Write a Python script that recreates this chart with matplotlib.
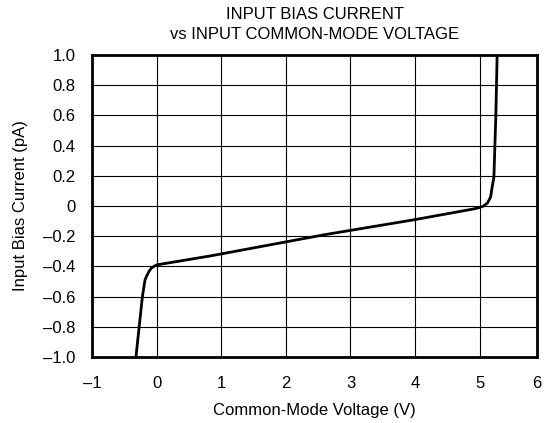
import matplotlib
matplotlib.use("Agg")
import matplotlib.pyplot as plt

plt.rcParams['font.family'] = ['Liberation Sans', 'DejaVu Sans']

# Curve
voltage = [-0.32, -0.27, -0.22, -0.18, -0.15, -0.12, -0.08, -0.04, 0.0, 0.84,
           2.6, 4.0, 4.9, 5.0, 5.06, 5.12, 5.17, 5.19, 5.22, 5.25, 5.27]
current = [-1.0, -0.80, -0.60, -0.49, -0.46, -0.435, -0.41, -0.40, -0.39, -0.33,
           -0.19, -0.09, -0.02, -0.01, 0.0, 0.02, 0.06, 0.12, 0.19, 0.6, 1.0]

x_ticks = [-1, 0, 1, 2, 3, 4, 5, 5.887]
x_labels = ['\u20131', '0', '1', '2', '3', '4', '5', '6']
y_ticks = [-1.0, -0.8, -0.6, -0.4, -0.2, 0, 0.2, 0.4, 0.6, 0.8, 1.0]
y_labels = ['\u20131.0', '\u20130.8', '\u20130.6', '\u20130.4', '\u20130.2', '0',
            '0.2', '0.4', '0.6', '0.8', '1.0']

fs = 12
fig = plt.figure(figsize=(5.46, 4.23), dpi=100)
ax = fig.add_axes([92/546, 1-357/423, (537-92)/546, (357-55)/423])

ax.plot(voltage, current, color='black', lw=2.0, solid_joinstyle='round')
ax.set_xlim(-1, 5.887)
ax.set_ylim(-1, 1)
ax.set_xticks(x_ticks)
ax.set_xticklabels(x_labels)
ax.set_yticks(y_ticks)
ax.set_yticklabels(y_labels)
ax.tick_params(length=0, labelsize=fs)
ax.tick_params(axis='x', pad=14)
ax.tick_params(axis='y', pad=12)
ax.grid(True, color='black', lw=0.8)
for s in ax.spines.values():
    s.set_linewidth(2.0)

ax.set_xlabel('Common-Mode Voltage (V)', fontsize=fs, labelpad=8)
ax.set_ylabel('Input Bias Current (pA)', fontsize=fs, labelpad=11)
ax.set_title('INPUT BIAS CURRENT\nvs INPUT COMMON-MODE VOLTAGE', fontsize=fs,
             linespacing=1.45, pad=11.5)

fig.savefig('out.png', dpi=100)
